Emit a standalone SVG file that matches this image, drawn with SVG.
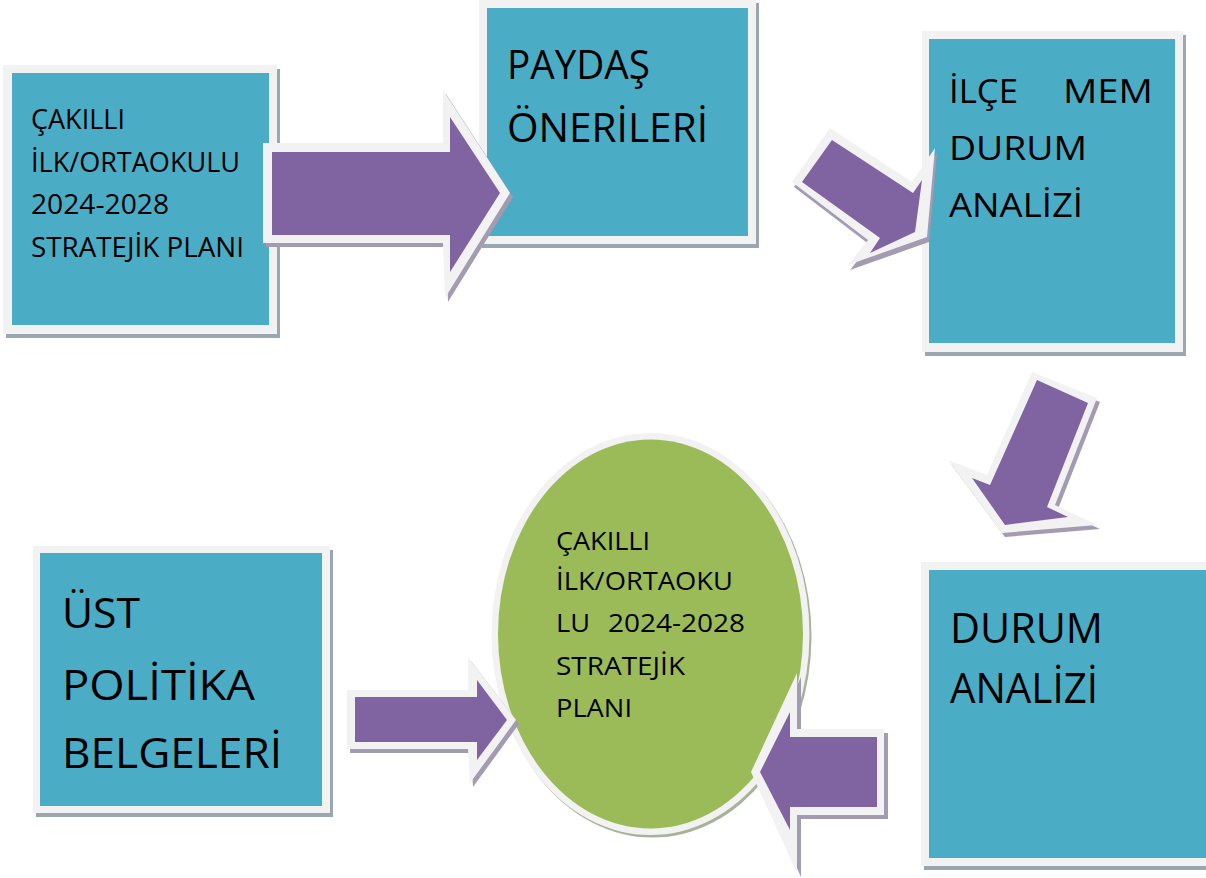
<svg xmlns="http://www.w3.org/2000/svg" width="1206" height="878" viewBox="0 0 1206 878">
<style>
.sh{fill:#9aa6b0}
.ash{fill:#a39bb1}
.esh{fill:#a8b29a}
.wb{fill:#f2f2f2}
.blue{fill:#4bacc6}
.green{fill:#9bbb59}
.pur{fill:#8064a2}
text{font-family:"Open Sans","Noto Sans","Liberation Sans",sans-serif;fill:#000}
</style>
<rect width="1206" height="878" fill="#ffffff"/>

<g id="node-cakilli-plan">
<rect class="sh" x="6" y="69" width="274" height="269"/>
<rect class="wb" x="3" y="65" width="274" height="269"/>
<rect class="blue" x="12" y="73" width="257" height="252"/>
<g font-size="26.5">
<text x="31" y="129" textLength="94" lengthAdjust="spacingAndGlyphs">ÇAKILLI</text>
<text x="31" y="172" textLength="209" lengthAdjust="spacingAndGlyphs">İLK/ORTAOKULU</text>
<text x="31" y="214" textLength="138" lengthAdjust="spacingAndGlyphs">2024-2028</text>
<text x="31" y="257" textLength="213" lengthAdjust="spacingAndGlyphs">STRATEJİK PLANI</text>
</g>
</g>

<g id="node-paydas">
<rect class="sh" x="482" y="3" width="277" height="245"/>
<rect class="wb" x="479" y="0" width="277" height="244"/>
<rect class="blue" x="487" y="8" width="261" height="228"/>
<g font-size="40.5">
<text x="507" y="79" textLength="143" lengthAdjust="spacingAndGlyphs">PAYDAŞ</text>
<text x="507" y="142" textLength="201" lengthAdjust="spacingAndGlyphs">ÖNERİLERİ</text>
</g>
</g>

<g id="node-ilce-mem">
<rect class="sh" x="925" y="35" width="261" height="321"/>
<rect class="wb" x="922" y="31" width="261" height="321"/>
<rect class="blue" x="929" y="39" width="246" height="304"/>
<g font-size="33.5">
<text x="949" y="103" textLength="69" lengthAdjust="spacingAndGlyphs">İLÇE</text>
<text x="1063" y="103" textLength="90" lengthAdjust="spacingAndGlyphs">MEM</text>
<text x="949" y="160" textLength="138" lengthAdjust="spacingAndGlyphs">DURUM</text>
<text x="949" y="217" textLength="134" lengthAdjust="spacingAndGlyphs">ANALİZİ</text>
</g>
</g>

<g id="node-durum-analizi">
<rect class="sh" x="924" y="566" width="290" height="304"/>
<rect class="wb" x="921" y="562" width="290" height="304"/>
<rect class="blue" x="929" y="570" width="282" height="288"/>
<g font-size="41.5">
<text x="950" y="643" textLength="153" lengthAdjust="spacingAndGlyphs">DURUM</text>
<text x="950" y="703" textLength="148" lengthAdjust="spacingAndGlyphs">ANALİZİ</text>
</g>
</g>

<g id="node-ust-politika">
<rect class="sh" x="36" y="550" width="297" height="267"/>
<rect class="wb" x="33" y="546" width="297" height="267"/>
<rect class="blue" x="40" y="553" width="282" height="253"/>
<g font-size="42.5">
<text x="62" y="628" textLength="78" lengthAdjust="spacingAndGlyphs">ÜST</text>
<text x="62" y="700" textLength="193" lengthAdjust="spacingAndGlyphs">POLİTİKA</text>
<text x="62" y="768" textLength="220" lengthAdjust="spacingAndGlyphs">BELGELERİ</text>
</g>
</g>

<g id="node-stratejik-plan">
<ellipse class="esh" cx="652.5" cy="636.5" rx="159" ry="201"/>
<ellipse class="wb" cx="650.5" cy="634" rx="159" ry="201"/>
<ellipse class="green" cx="650.5" cy="634" rx="152.5" ry="194.5"/>
<g font-size="26">
<text x="556" y="550" textLength="94" lengthAdjust="spacingAndGlyphs">ÇAKILLI</text>
<text x="556" y="590" textLength="177" lengthAdjust="spacingAndGlyphs">İLK/ORTAOKU</text>
<text y="632"><tspan x="556" textLength="34" lengthAdjust="spacingAndGlyphs">LU</tspan><tspan x="608" textLength="137" lengthAdjust="spacingAndGlyphs">2024-2028</tspan></text>
<text x="556" y="675" textLength="129" lengthAdjust="spacingAndGlyphs">STRATEJİK</text>
<text x="556" y="717" textLength="76" lengthAdjust="spacingAndGlyphs">PLANI</text>
</g>
</g>

<g id="connectors">
<g id="arrow-1">
<polygon class="ash" points="266,147 446,147 446,94 513,197 448,302 446,247 266,247"/>
<polygon class="wb" points="263,143 443,143 443,90 510,193 445,298 443,243 263,243"/>
<polygon class="pur" points="272,152 450,152 450,117 500,193 450,272 450,235 272,235"/>
</g>
<g id="arrow-2">
<polygon class="ash" points="832,132 794,187 870,245 850,270 929,242 937,153 914,187"/>
<polygon class="wb" points="830,128 792,182 868,240 848,265 927,237 935,148 912,182"/>
<polygon class="pur" points="832,140 802,182 880,238 870,253 915,232 922,180 913,193"/>
</g>
<g id="arrow-3">
<polygon class="ash" points="1035,376 1100,402 1058,509 1100,529 1005,537 951,464 990,479"/>
<polygon class="wb" points="1032,372 1097,398 1055,505 1097,525 1002,533 948,460 987,475"/>
<polygon class="pur" points="1037,380 1088,403 1047,507 1068,517 1005,525 972,478 990,485"/>
</g>
<g id="arrow-4">
<polygon class="ash" points="350,694 471,694 471,661 519,724 473,787 471,753 350,753"/>
<polygon class="wb" points="347,690 468,690 468,657 516,720 470,783 468,749 347,749"/>
<polygon class="pur" points="355,697 477,697 477,680 507,720 477,760 477,742 355,742"/>
</g>
<g id="arrow-5">
<polygon class="ash" points="888,733 801,733 801,677 755,776 801,877 801,819 888,819"/>
<polygon class="wb" points="884,729 797,729 797,673 751,772 797,873 797,815 884,815"/>
<polygon class="pur" points="877,737 790,737 790,712 760,772 790,830 790,807 877,807"/>
</g>
</g>
</svg>
